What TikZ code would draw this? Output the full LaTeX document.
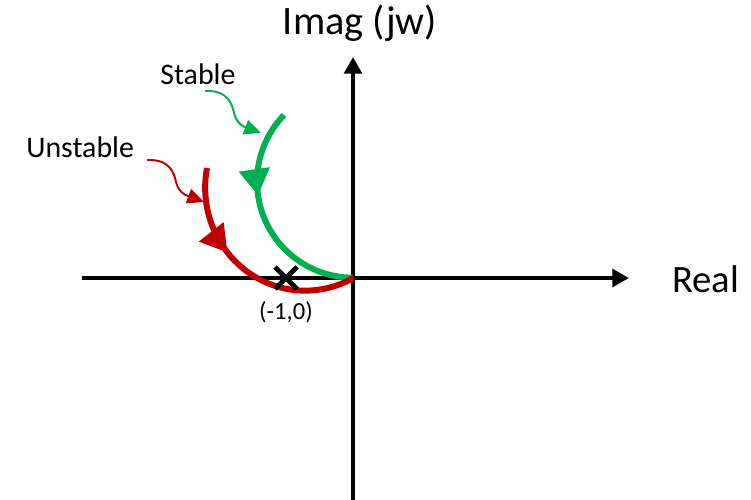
\documentclass[tikz,border=0pt]{standalone}
\usepackage{fontspec}
\setmainfont{Carlito}
\usetikzlibrary{arrows.meta,decorations.markings}
\definecolor{stgreen}{RGB}{0,176,80}
\definecolor{unred}{RGB}{192,0,0}
\tikzset{
  axis/.style={line width=2.8pt, -{Triangle[length=9.5pt,width=10pt]}},
  locus/.style={line width=3.4pt, draw=#1, postaction={decorate},
    decoration={markings, mark=at position 0.39 with {\arrow[#1]{Triangle[length=15pt,width=17pt]}}}},
  pointer/.style={line width=1.1pt, draw=#1, -{Triangle[length=9.5pt,width=8.5pt,fill=#1]}},
  lbl/.style={inner sep=0pt, font=\fontsize{#1}{#1}\selectfont},
}
\begin{document}
\begin{tikzpicture}[x=0.02cm, y=0.02cm]
  \useasboundingbox (0,0) rectangle (751,-500);
  % axes
  \coordinate (O) at (353,-278);
  \coordinate (xl) at (82,-278);
  \coordinate (xr) at (629,-278);
  \coordinate (yb) at (353,-500);
  \coordinate (yt) at (353,-57);
  \draw[axis] (xl) -- (xr);
  \draw[axis] (yb) -- (yt);
  \node[lbl=23, anchor=base] (imag) at (360,-35) {Imag (jw)};
  \node[lbl=22, anchor=base west] (real) at (672,-292) {Real};
  % loci
  \coordinate (gs) at (284,-115);
  \coordinate (rs) at (207,-168);
  \draw[locus=stgreen] (gs) arc (136:270:96);
  \draw[locus=unred] (rs) arc (169:299:100 and 103);
  % labels with pointers
  \node[lbl=17, anchor=base west] (stab) at (160,-85) {Stable};
  \node[lbl=17, anchor=base west] (unstab) at (26,-157) {Unstable};
  \coordinate (gp) at (205,-91);
  \coordinate (gt) at (261,-133);
  \coordinate (rp) at (147,-160);
  \coordinate (rt) at (204,-202);
  \draw[pointer=stgreen] (gp) .. controls +(23,1) and +(-2,9) .. ++(29,-22)
    .. controls +(3,-12) and +(-16,6) .. (gt);
  \draw[pointer=unred] (rp) .. controls +(23,1) and +(-2,9) .. ++(29,-22)
    .. controls +(3,-12) and +(-16,6) .. (rt);
  % critical point
  \coordinate (m1) at (286,-278);
  \draw[line width=2.8pt] (m1) +(-11,-11) -- +(11,11) (m1) +(-11,11) -- +(11,-11);
  \node[lbl=14, anchor=base] (mlbl) at (286,-319) {(-1,0)};
\end{tikzpicture}
\end{document}
